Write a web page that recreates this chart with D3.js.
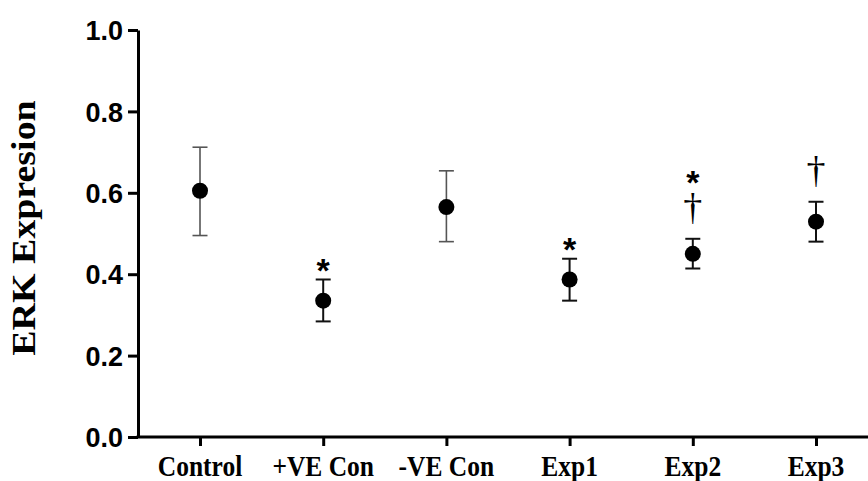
<!DOCTYPE html>
<html>
<head>
<meta charset="utf-8">
<script src="https://cdn.jsdelivr.net/npm/d3@7"></script>
<style>
  html, body { margin: 0; padding: 0; background: #fff; }
  svg { display: block; }
</style>
</head>
<body>
<script>
// ---- data ----
const categories = ["Control", "+VE Con", "-VE Con", "Exp1", "Exp2", "Exp3"];
const means  = [0.605, 0.335, 0.565, 0.387, 0.450, 0.529];
const upper  = [0.712, 0.387, 0.654, 0.438, 0.487, 0.578];
const lower  = [0.495, 0.284, 0.480, 0.335, 0.414, 0.480];
const marks  = [[], ["*"], [], ["*"], ["†", "*"], ["†"]]; // bottom to top
const grayBars = ["Control", "-VE Con"];
const yTicks = [0, 0.2, 0.4, 0.6, 0.8, 1.0];
const yLabel = "ERK Expresion";

// ---- layout ----
const W = 868, H = 481;
const axisX = 138, axisY = 437, topY = 30;

const svg = d3.select("body").append("svg").attr("width", W).attr("height", H);

const x = d3.scalePoint().domain(categories).range([200, 816]);
const y = d3.scaleLinear().domain([0, 1]).range([axisY, topY]);

// y axis
const yAxis = d3.axisLeft(y).tickValues(yTicks).tickFormat(d3.format(".1f")).tickSize(10).tickSizeOuter(0).tickPadding(5);
const gy = svg.append("g").attr("transform", `translate(${axisX},0)`).call(yAxis);
gy.select(".domain").attr("stroke", "#000").attr("stroke-width", 3);
gy.selectAll(".tick line").attr("stroke", "#000").attr("stroke-width", 3);
gy.selectAll(".tick text")
  .attr("font-family", "'Liberation Sans', Arial, sans-serif")
  .attr("font-weight", "bold").attr("font-size", 27).attr("fill", "#000")
  .attr("dy", "0.36em");

// x axis
const xAxis = d3.axisBottom(x).tickSize(9).tickSizeOuter(0).tickFormat("");
const gx = svg.append("g").attr("transform", `translate(0,${axisY})`).call(xAxis);
gx.select(".domain").remove();
gx.selectAll(".tick line").attr("stroke", "#000").attr("stroke-width", 3);
svg.append("line").attr("x1", axisX - 1.5).attr("x2", W).attr("y1", axisY).attr("y2", axisY)
  .attr("stroke", "#000").attr("stroke-width", 3);

// x labels (serif bold, slightly stretched vertically like the reference)
svg.append("g").selectAll("text").data(categories).join("text")
  .attr("transform", d => `translate(${x(d)},476) scale(1,1.15)`)
  .attr("text-anchor", "middle")
  .attr("font-family", "'Liberation Serif', 'Times New Roman', serif")
  .attr("font-weight", "bold").attr("font-size", 25.5).attr("fill", "#000")
  .text(d => d);

// y label
svg.append("text")
  .attr("transform", `translate(35,228) scale(1,1.15) rotate(-90)`)
  .attr("text-anchor", "middle")
  .attr("font-family", "'Liberation Serif', 'Times New Roman', serif")
  .attr("font-weight", "bold").attr("font-size", 33).attr("fill", "#000")
  .text(yLabel);

// error bars
const data = categories.map((c, i) => ({ c, m: means[i], hi: upper[i], lo: lower[i], marks: marks[i] }));
const eb = svg.append("g").selectAll("g").data(data).join("g")
  .attr("stroke", d => grayBars.includes(d.c) ? "#555" : "#111")
  .attr("stroke-width", d => grayBars.includes(d.c) ? 1.6 : 2);
eb.append("line").attr("x1", d => x(d.c)).attr("x2", d => x(d.c)).attr("y1", d => y(d.hi)).attr("y2", d => y(d.lo));
eb.append("line").attr("x1", d => x(d.c) - 7.5).attr("x2", d => x(d.c) + 7.5).attr("y1", d => y(d.hi)).attr("y2", d => y(d.hi));
eb.append("line").attr("x1", d => x(d.c) - 7.5).attr("x2", d => x(d.c) + 7.5).attr("y1", d => y(d.lo)).attr("y2", d => y(d.lo));

// points
svg.append("g").selectAll("circle").data(data).join("circle")
  .attr("cx", d => x(d.c)).attr("cy", d => y(d.m)).attr("r", 8).attr("fill", "#000");

// significance marks: one text element per group, stacked with tspans
const mg = svg.append("g");
data.forEach(d => {
  if (!d.marks.length) return;
  const t = mg.append("text").attr("text-anchor", "middle").attr("fill", "#000");
  let cursor = y(d.hi) - 16; // bottom of lowest mark
  d.marks.forEach(s => {
    if (s === "†") {
      const fs = 38;
      const base = cursor - 0.08 * fs;
      t.append("tspan").attr("x", x(d.c)).attr("y", base)
        .attr("font-family", "'Liberation Serif', 'Times New Roman', serif")
        .attr("font-size", fs).text(s);
      cursor = base - 0.71 * fs - 17;
    } else {
      const fs = 34;
      const center = cursor - 1;
      t.append("tspan").attr("x", x(d.c)).attr("y", center + 0.57 * fs)
        .attr("font-family", "'Liberation Sans', Arial, sans-serif")
        .attr("font-weight", "bold")
        .attr("font-size", fs).text(s);
      cursor = center - 18;
    }
  });
});
</script>
</body>
</html>
